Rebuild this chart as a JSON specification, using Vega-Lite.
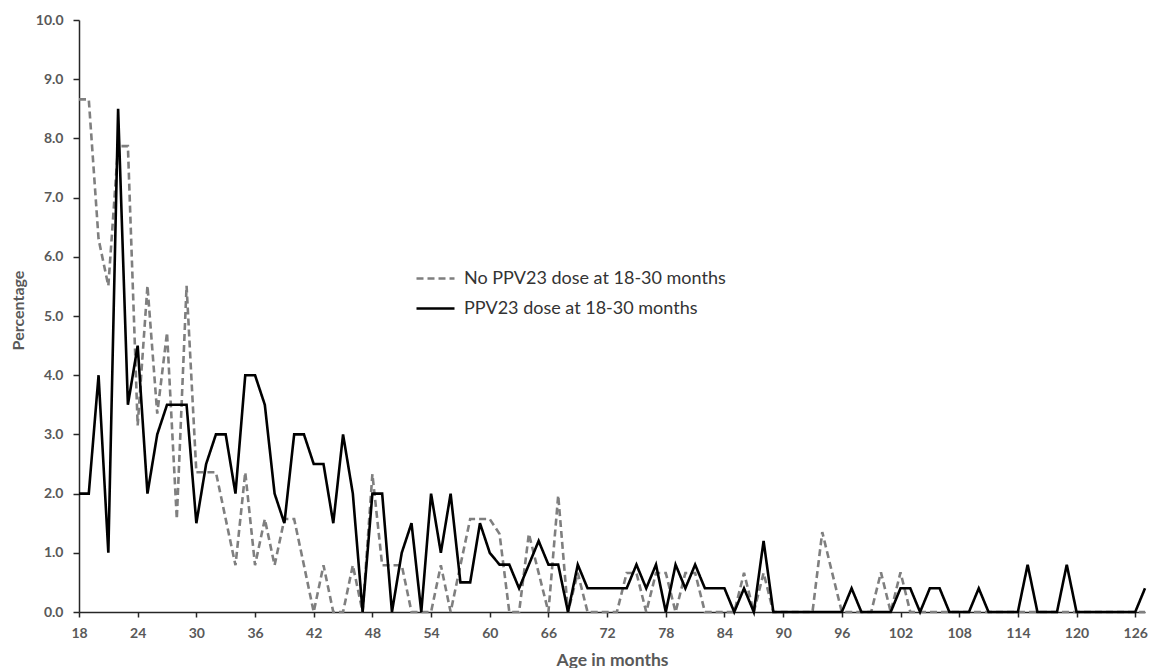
{
  "$schema": "https://vega.github.io/schema/vega-lite/v6.json",
  "width": 1066,
  "height": 592,
  "autosize": "none",
  "padding": {"left": 79, "top": 20, "right": 4, "bottom": 56},
  "background": "white",
  "config": {"view": {"stroke": null}, "font": "Lato"},
  "data": {
    "values": [
      {"month":18,"series":"No PPV23 dose at 18-30 months","pct":8.66},
      {"month":19,"series":"No PPV23 dose at 18-30 months","pct":8.66},
      {"month":20,"series":"No PPV23 dose at 18-30 months","pct":6.30},
      {"month":21,"series":"No PPV23 dose at 18-30 months","pct":5.51},
      {"month":22,"series":"No PPV23 dose at 18-30 months","pct":7.87},
      {"month":23,"series":"No PPV23 dose at 18-30 months","pct":7.87},
      {"month":24,"series":"No PPV23 dose at 18-30 months","pct":3.15},
      {"month":25,"series":"No PPV23 dose at 18-30 months","pct":5.51},
      {"month":26,"series":"No PPV23 dose at 18-30 months","pct":3.35},
      {"month":27,"series":"No PPV23 dose at 18-30 months","pct":4.72},
      {"month":28,"series":"No PPV23 dose at 18-30 months","pct":1.57},
      {"month":29,"series":"No PPV23 dose at 18-30 months","pct":5.51},
      {"month":30,"series":"No PPV23 dose at 18-30 months","pct":2.36},
      {"month":31,"series":"No PPV23 dose at 18-30 months","pct":2.36},
      {"month":32,"series":"No PPV23 dose at 18-30 months","pct":2.36},
      {"month":33,"series":"No PPV23 dose at 18-30 months","pct":1.57},
      {"month":34,"series":"No PPV23 dose at 18-30 months","pct":0.79},
      {"month":35,"series":"No PPV23 dose at 18-30 months","pct":2.36},
      {"month":36,"series":"No PPV23 dose at 18-30 months","pct":0.79},
      {"month":37,"series":"No PPV23 dose at 18-30 months","pct":1.57},
      {"month":38,"series":"No PPV23 dose at 18-30 months","pct":0.79},
      {"month":39,"series":"No PPV23 dose at 18-30 months","pct":1.57},
      {"month":40,"series":"No PPV23 dose at 18-30 months","pct":1.57},
      {"month":41,"series":"No PPV23 dose at 18-30 months","pct":0.79},
      {"month":42,"series":"No PPV23 dose at 18-30 months","pct":0},
      {"month":43,"series":"No PPV23 dose at 18-30 months","pct":0.79},
      {"month":44,"series":"No PPV23 dose at 18-30 months","pct":0},
      {"month":45,"series":"No PPV23 dose at 18-30 months","pct":0},
      {"month":46,"series":"No PPV23 dose at 18-30 months","pct":0.79},
      {"month":47,"series":"No PPV23 dose at 18-30 months","pct":0},
      {"month":48,"series":"No PPV23 dose at 18-30 months","pct":2.33},
      {"month":49,"series":"No PPV23 dose at 18-30 months","pct":0.79},
      {"month":50,"series":"No PPV23 dose at 18-30 months","pct":0.79},
      {"month":51,"series":"No PPV23 dose at 18-30 months","pct":0.79},
      {"month":52,"series":"No PPV23 dose at 18-30 months","pct":0},
      {"month":53,"series":"No PPV23 dose at 18-30 months","pct":0},
      {"month":54,"series":"No PPV23 dose at 18-30 months","pct":0},
      {"month":55,"series":"No PPV23 dose at 18-30 months","pct":0.79},
      {"month":56,"series":"No PPV23 dose at 18-30 months","pct":0},
      {"month":57,"series":"No PPV23 dose at 18-30 months","pct":0.79},
      {"month":58,"series":"No PPV23 dose at 18-30 months","pct":1.57},
      {"month":59,"series":"No PPV23 dose at 18-30 months","pct":1.57},
      {"month":60,"series":"No PPV23 dose at 18-30 months","pct":1.57},
      {"month":61,"series":"No PPV23 dose at 18-30 months","pct":1.32},
      {"month":62,"series":"No PPV23 dose at 18-30 months","pct":0},
      {"month":63,"series":"No PPV23 dose at 18-30 months","pct":0},
      {"month":64,"series":"No PPV23 dose at 18-30 months","pct":1.32},
      {"month":65,"series":"No PPV23 dose at 18-30 months","pct":0.66},
      {"month":66,"series":"No PPV23 dose at 18-30 months","pct":0},
      {"month":67,"series":"No PPV23 dose at 18-30 months","pct":1.97},
      {"month":68,"series":"No PPV23 dose at 18-30 months","pct":0},
      {"month":69,"series":"No PPV23 dose at 18-30 months","pct":0.66},
      {"month":70,"series":"No PPV23 dose at 18-30 months","pct":0},
      {"month":71,"series":"No PPV23 dose at 18-30 months","pct":0},
      {"month":72,"series":"No PPV23 dose at 18-30 months","pct":0},
      {"month":73,"series":"No PPV23 dose at 18-30 months","pct":0},
      {"month":74,"series":"No PPV23 dose at 18-30 months","pct":0.66},
      {"month":75,"series":"No PPV23 dose at 18-30 months","pct":0.66},
      {"month":76,"series":"No PPV23 dose at 18-30 months","pct":0},
      {"month":77,"series":"No PPV23 dose at 18-30 months","pct":0.66},
      {"month":78,"series":"No PPV23 dose at 18-30 months","pct":0.66},
      {"month":79,"series":"No PPV23 dose at 18-30 months","pct":0},
      {"month":80,"series":"No PPV23 dose at 18-30 months","pct":0.66},
      {"month":81,"series":"No PPV23 dose at 18-30 months","pct":0.66},
      {"month":82,"series":"No PPV23 dose at 18-30 months","pct":0},
      {"month":83,"series":"No PPV23 dose at 18-30 months","pct":0},
      {"month":84,"series":"No PPV23 dose at 18-30 months","pct":0},
      {"month":85,"series":"No PPV23 dose at 18-30 months","pct":0},
      {"month":86,"series":"No PPV23 dose at 18-30 months","pct":0.66},
      {"month":87,"series":"No PPV23 dose at 18-30 months","pct":0},
      {"month":88,"series":"No PPV23 dose at 18-30 months","pct":0.66},
      {"month":89,"series":"No PPV23 dose at 18-30 months","pct":0},
      {"month":90,"series":"No PPV23 dose at 18-30 months","pct":0},
      {"month":91,"series":"No PPV23 dose at 18-30 months","pct":0},
      {"month":92,"series":"No PPV23 dose at 18-30 months","pct":0},
      {"month":93,"series":"No PPV23 dose at 18-30 months","pct":0},
      {"month":94,"series":"No PPV23 dose at 18-30 months","pct":1.35},
      {"month":95,"series":"No PPV23 dose at 18-30 months","pct":0.67},
      {"month":96,"series":"No PPV23 dose at 18-30 months","pct":0},
      {"month":97,"series":"No PPV23 dose at 18-30 months","pct":0},
      {"month":98,"series":"No PPV23 dose at 18-30 months","pct":0},
      {"month":99,"series":"No PPV23 dose at 18-30 months","pct":0},
      {"month":100,"series":"No PPV23 dose at 18-30 months","pct":0.67},
      {"month":101,"series":"No PPV23 dose at 18-30 months","pct":0},
      {"month":102,"series":"No PPV23 dose at 18-30 months","pct":0.67},
      {"month":103,"series":"No PPV23 dose at 18-30 months","pct":0},
      {"month":104,"series":"No PPV23 dose at 18-30 months","pct":0},
      {"month":105,"series":"No PPV23 dose at 18-30 months","pct":0},
      {"month":106,"series":"No PPV23 dose at 18-30 months","pct":0},
      {"month":107,"series":"No PPV23 dose at 18-30 months","pct":0},
      {"month":108,"series":"No PPV23 dose at 18-30 months","pct":0},
      {"month":109,"series":"No PPV23 dose at 18-30 months","pct":0},
      {"month":110,"series":"No PPV23 dose at 18-30 months","pct":0},
      {"month":111,"series":"No PPV23 dose at 18-30 months","pct":0},
      {"month":112,"series":"No PPV23 dose at 18-30 months","pct":0},
      {"month":113,"series":"No PPV23 dose at 18-30 months","pct":0},
      {"month":114,"series":"No PPV23 dose at 18-30 months","pct":0},
      {"month":115,"series":"No PPV23 dose at 18-30 months","pct":0},
      {"month":116,"series":"No PPV23 dose at 18-30 months","pct":0},
      {"month":117,"series":"No PPV23 dose at 18-30 months","pct":0},
      {"month":118,"series":"No PPV23 dose at 18-30 months","pct":0},
      {"month":119,"series":"No PPV23 dose at 18-30 months","pct":0},
      {"month":120,"series":"No PPV23 dose at 18-30 months","pct":0},
      {"month":121,"series":"No PPV23 dose at 18-30 months","pct":0},
      {"month":122,"series":"No PPV23 dose at 18-30 months","pct":0},
      {"month":123,"series":"No PPV23 dose at 18-30 months","pct":0},
      {"month":124,"series":"No PPV23 dose at 18-30 months","pct":0},
      {"month":125,"series":"No PPV23 dose at 18-30 months","pct":0},
      {"month":126,"series":"No PPV23 dose at 18-30 months","pct":0},
      {"month":127,"series":"No PPV23 dose at 18-30 months","pct":0},
      {"month":18,"series":"PPV23 dose at 18-30 months","pct":2.0},
      {"month":19,"series":"PPV23 dose at 18-30 months","pct":2.0},
      {"month":20,"series":"PPV23 dose at 18-30 months","pct":4.0},
      {"month":21,"series":"PPV23 dose at 18-30 months","pct":1.0},
      {"month":22,"series":"PPV23 dose at 18-30 months","pct":8.5},
      {"month":23,"series":"PPV23 dose at 18-30 months","pct":3.5},
      {"month":24,"series":"PPV23 dose at 18-30 months","pct":4.5},
      {"month":25,"series":"PPV23 dose at 18-30 months","pct":2.0},
      {"month":26,"series":"PPV23 dose at 18-30 months","pct":3.0},
      {"month":27,"series":"PPV23 dose at 18-30 months","pct":3.5},
      {"month":28,"series":"PPV23 dose at 18-30 months","pct":3.5},
      {"month":29,"series":"PPV23 dose at 18-30 months","pct":3.5},
      {"month":30,"series":"PPV23 dose at 18-30 months","pct":1.5},
      {"month":31,"series":"PPV23 dose at 18-30 months","pct":2.5},
      {"month":32,"series":"PPV23 dose at 18-30 months","pct":3.0},
      {"month":33,"series":"PPV23 dose at 18-30 months","pct":3.0},
      {"month":34,"series":"PPV23 dose at 18-30 months","pct":2.0},
      {"month":35,"series":"PPV23 dose at 18-30 months","pct":4.0},
      {"month":36,"series":"PPV23 dose at 18-30 months","pct":4.0},
      {"month":37,"series":"PPV23 dose at 18-30 months","pct":3.5},
      {"month":38,"series":"PPV23 dose at 18-30 months","pct":2.0},
      {"month":39,"series":"PPV23 dose at 18-30 months","pct":1.5},
      {"month":40,"series":"PPV23 dose at 18-30 months","pct":3.0},
      {"month":41,"series":"PPV23 dose at 18-30 months","pct":3.0},
      {"month":42,"series":"PPV23 dose at 18-30 months","pct":2.5},
      {"month":43,"series":"PPV23 dose at 18-30 months","pct":2.5},
      {"month":44,"series":"PPV23 dose at 18-30 months","pct":1.5},
      {"month":45,"series":"PPV23 dose at 18-30 months","pct":3.0},
      {"month":46,"series":"PPV23 dose at 18-30 months","pct":2.0},
      {"month":47,"series":"PPV23 dose at 18-30 months","pct":0},
      {"month":48,"series":"PPV23 dose at 18-30 months","pct":2.0},
      {"month":49,"series":"PPV23 dose at 18-30 months","pct":2.0},
      {"month":50,"series":"PPV23 dose at 18-30 months","pct":0},
      {"month":51,"series":"PPV23 dose at 18-30 months","pct":1.0},
      {"month":52,"series":"PPV23 dose at 18-30 months","pct":1.5},
      {"month":53,"series":"PPV23 dose at 18-30 months","pct":0},
      {"month":54,"series":"PPV23 dose at 18-30 months","pct":2.0},
      {"month":55,"series":"PPV23 dose at 18-30 months","pct":1.0},
      {"month":56,"series":"PPV23 dose at 18-30 months","pct":2.0},
      {"month":57,"series":"PPV23 dose at 18-30 months","pct":0.5},
      {"month":58,"series":"PPV23 dose at 18-30 months","pct":0.5},
      {"month":59,"series":"PPV23 dose at 18-30 months","pct":1.5},
      {"month":60,"series":"PPV23 dose at 18-30 months","pct":1.0},
      {"month":61,"series":"PPV23 dose at 18-30 months","pct":0.8},
      {"month":62,"series":"PPV23 dose at 18-30 months","pct":0.8},
      {"month":63,"series":"PPV23 dose at 18-30 months","pct":0.4},
      {"month":64,"series":"PPV23 dose at 18-30 months","pct":0.8},
      {"month":65,"series":"PPV23 dose at 18-30 months","pct":1.2},
      {"month":66,"series":"PPV23 dose at 18-30 months","pct":0.8},
      {"month":67,"series":"PPV23 dose at 18-30 months","pct":0.8},
      {"month":68,"series":"PPV23 dose at 18-30 months","pct":0},
      {"month":69,"series":"PPV23 dose at 18-30 months","pct":0.8},
      {"month":70,"series":"PPV23 dose at 18-30 months","pct":0.4},
      {"month":71,"series":"PPV23 dose at 18-30 months","pct":0.4},
      {"month":72,"series":"PPV23 dose at 18-30 months","pct":0.4},
      {"month":73,"series":"PPV23 dose at 18-30 months","pct":0.4},
      {"month":74,"series":"PPV23 dose at 18-30 months","pct":0.4},
      {"month":75,"series":"PPV23 dose at 18-30 months","pct":0.8},
      {"month":76,"series":"PPV23 dose at 18-30 months","pct":0.4},
      {"month":77,"series":"PPV23 dose at 18-30 months","pct":0.8},
      {"month":78,"series":"PPV23 dose at 18-30 months","pct":0},
      {"month":79,"series":"PPV23 dose at 18-30 months","pct":0.8},
      {"month":80,"series":"PPV23 dose at 18-30 months","pct":0.4},
      {"month":81,"series":"PPV23 dose at 18-30 months","pct":0.8},
      {"month":82,"series":"PPV23 dose at 18-30 months","pct":0.4},
      {"month":83,"series":"PPV23 dose at 18-30 months","pct":0.4},
      {"month":84,"series":"PPV23 dose at 18-30 months","pct":0.4},
      {"month":85,"series":"PPV23 dose at 18-30 months","pct":0},
      {"month":86,"series":"PPV23 dose at 18-30 months","pct":0.4},
      {"month":87,"series":"PPV23 dose at 18-30 months","pct":0},
      {"month":88,"series":"PPV23 dose at 18-30 months","pct":1.2},
      {"month":89,"series":"PPV23 dose at 18-30 months","pct":0},
      {"month":90,"series":"PPV23 dose at 18-30 months","pct":0},
      {"month":91,"series":"PPV23 dose at 18-30 months","pct":0},
      {"month":92,"series":"PPV23 dose at 18-30 months","pct":0},
      {"month":93,"series":"PPV23 dose at 18-30 months","pct":0},
      {"month":94,"series":"PPV23 dose at 18-30 months","pct":0},
      {"month":95,"series":"PPV23 dose at 18-30 months","pct":0},
      {"month":96,"series":"PPV23 dose at 18-30 months","pct":0},
      {"month":97,"series":"PPV23 dose at 18-30 months","pct":0.4},
      {"month":98,"series":"PPV23 dose at 18-30 months","pct":0},
      {"month":99,"series":"PPV23 dose at 18-30 months","pct":0},
      {"month":100,"series":"PPV23 dose at 18-30 months","pct":0},
      {"month":101,"series":"PPV23 dose at 18-30 months","pct":0},
      {"month":102,"series":"PPV23 dose at 18-30 months","pct":0.4},
      {"month":103,"series":"PPV23 dose at 18-30 months","pct":0.4},
      {"month":104,"series":"PPV23 dose at 18-30 months","pct":0},
      {"month":105,"series":"PPV23 dose at 18-30 months","pct":0.4},
      {"month":106,"series":"PPV23 dose at 18-30 months","pct":0.4},
      {"month":107,"series":"PPV23 dose at 18-30 months","pct":0},
      {"month":108,"series":"PPV23 dose at 18-30 months","pct":0},
      {"month":109,"series":"PPV23 dose at 18-30 months","pct":0},
      {"month":110,"series":"PPV23 dose at 18-30 months","pct":0.4},
      {"month":111,"series":"PPV23 dose at 18-30 months","pct":0},
      {"month":112,"series":"PPV23 dose at 18-30 months","pct":0},
      {"month":113,"series":"PPV23 dose at 18-30 months","pct":0},
      {"month":114,"series":"PPV23 dose at 18-30 months","pct":0},
      {"month":115,"series":"PPV23 dose at 18-30 months","pct":0.8},
      {"month":116,"series":"PPV23 dose at 18-30 months","pct":0},
      {"month":117,"series":"PPV23 dose at 18-30 months","pct":0},
      {"month":118,"series":"PPV23 dose at 18-30 months","pct":0},
      {"month":119,"series":"PPV23 dose at 18-30 months","pct":0.8},
      {"month":120,"series":"PPV23 dose at 18-30 months","pct":0},
      {"month":121,"series":"PPV23 dose at 18-30 months","pct":0},
      {"month":122,"series":"PPV23 dose at 18-30 months","pct":0},
      {"month":123,"series":"PPV23 dose at 18-30 months","pct":0},
      {"month":124,"series":"PPV23 dose at 18-30 months","pct":0},
      {"month":125,"series":"PPV23 dose at 18-30 months","pct":0},
      {"month":126,"series":"PPV23 dose at 18-30 months","pct":0},
      {"month":127,"series":"PPV23 dose at 18-30 months","pct":0.4}
    ]
  },
  "mark": {"type": "line", "strokeWidth": 2.6, "clip": false},
  "encoding": {
    "x": {
      "field": "month", "type": "quantitative",
      "scale": {"domain": [18, 127], "nice": false, "zero": false},
      "axis": {
        "values": [18,24,30,36,42,48,54,60,66,72,78,84,90,96,102,108,114,120,126],
        "title": "Age in months", "grid": false,
        "domainColor": "#262626", "domainWidth": 1.5, "tickColor": "#262626", "tickWidth": 1.5, "tickSize": 5,
        "labelFont": "Lato", "labelFontSize": 14, "labelFontWeight": "bold", "labelColor": "#595959", "labelPadding": 9,
        "labelFlush": false, "labelOverlap": false,
        "titleFont": "Lato", "titleFontSize": 17.5, "titleFontWeight": "bold", "titleColor": "#595959",
        "titleX": 533, "titleY": 48, "titleBaseline": "middle", "titleAlign": "center"
      }
    },
    "y": {
      "field": "pct", "type": "quantitative",
      "scale": {"domain": [0, 10], "nice": false},
      "axis": {
        "values": [0,1,2,3,4,5,6,7,8,9,10], "format": ".1f",
        "title": "Percentage", "grid": false,
        "domainColor": "#262626", "domainWidth": 1.5, "tickColor": "#262626", "tickWidth": 1.5, "tickSize": 6,
        "labelFont": "Lato", "labelFontSize": 14, "labelFontWeight": "bold", "labelColor": "#595959", "labelPadding": 10,
        "labelFlush": false, "labelOverlap": false,
        "titleFont": "Lato", "titleFontSize": 16, "titleFontWeight": "bold", "titleColor": "#595959",
        "titleX": -61, "titleY": 290, "titleBaseline": "middle", "titleAlign": "center", "titleAngle": -90
      }
    },
    "color": {
      "field": "series", "type": "nominal",
      "scale": {"domain": ["No PPV23 dose at 18-30 months", "PPV23 dose at 18-30 months"], "range": ["#7f7f7f", "#000000"]},
      "legend": {
        "title": null, "orient": "none", "legendX": 336, "legendY": 238, "padding": 0,
        "symbolType": "stroke", "symbolSize": 1444, "symbolStrokeWidth": 2.6,
        "labelFont": "Lato", "labelFontSize": 18, "labelColor": "#333333", "labelOffset": 8, "rowPadding": -8,
        "labelLimit": 0
      }
    },
    "strokeDash": {
      "field": "series", "type": "nominal",
      "scale": {"domain": ["No PPV23 dose at 18-30 months", "PPV23 dose at 18-30 months"], "range": [[7, 4], [1, 0]]}
    }
  }
}
